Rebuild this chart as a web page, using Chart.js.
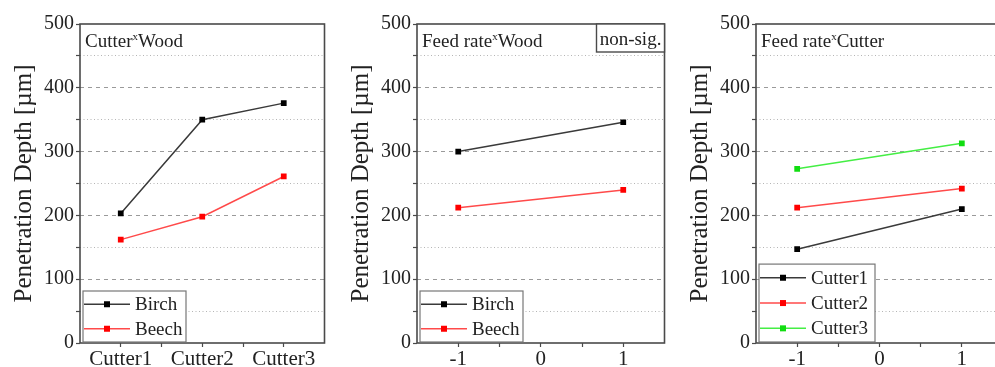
<!DOCTYPE html>
<html>
<head>
<meta charset="utf-8">
<script src="https://cdn.jsdelivr.net/npm/chart.js@4.4.1/dist/chart.umd.min.js"></script>
<style>
  html, body { margin: 0; padding: 0; background: #fff; width: 995px; height: 367px; overflow: hidden; }
  .panel { position: absolute; top: 0; }
</style>
</head>
<body>
<div class="panel" style="left:0px"><canvas id="c1" width="330" height="367"></canvas></div>
<div class="panel" style="left:337px"><canvas id="c2" width="333" height="367"></canvas></div>
<div class="panel" style="left:676px"><canvas id="c3" width="334" height="367"></canvas></div>
<script>
// ---- data ----
const cutterCategories = ['Cutter1', 'Cutter2', 'Cutter3'];
const feedRateLevels = [-1, 1];
const feedRateTickLabels = ['-1', '0', '1'];
const birchByCutter = [203, 350, 376];
const beechByCutter = [162, 198, 261];
const birchByFeed = [300, 346];
const beechByFeed = [212, 240];
const cutter1ByFeed = [147, 210];
const cutter2ByFeed = [212, 242];
const cutter3ByFeed = [273, 313];
const yMin = 0, yMax = 500;

const FONT = "'Liberation Serif', 'DejaVu Serif', serif";
const TXT = '#222';
const FRAME = '#4a4a4a';

const colors = {
  black: { line: '#3a3a3a', point: '#000000' },
  red:   { line: '#ff4a4a', point: '#ff0000' },
  green: { line: '#44ee44', point: '#11dd11' }
};

function ds(label, data, xs, c) {
  return {
    label,
    data: data.map((v, i) => ({ x: xs[i], y: v })),
    borderColor: c.line,
    backgroundColor: c.point,
    pointBackgroundColor: c.point,
    pointBorderColor: c.point,
    pointStyle: 'rect',
    pointRadius: 3,
    borderWidth: 1.5,
    tension: 0
  };
}

const framePlugin = {
  id: 'frameDeco',
  afterDraw(chart, args, opts) {
    const ctx = chart.ctx;
    const a = chart.chartArea;
    ctx.save();
    ctx.strokeStyle = FRAME;
    ctx.lineWidth = 1.6;
    ctx.setLineDash([]);
    ctx.strokeRect(a.left, a.top, a.right - a.left, a.bottom - a.top);

    if (opts.title) {
      const [p1, p2] = opts.title;
      let x = a.left + 5, y = a.top + 23;
      ctx.fillStyle = TXT;
      ctx.textBaseline = 'alphabetic';
      ctx.textAlign = 'left';
      ctx.font = '19px ' + FONT;
      ctx.fillText(p1, x, y);
      x += ctx.measureText(p1).width;
      ctx.font = '11px ' + FONT;
      ctx.fillText('x', x, y - 7);
      x += ctx.measureText('x').width;
      ctx.font = '19px ' + FONT;
      ctx.fillText(p2, x, y);
    }

    if (opts.note) {
      ctx.font = '19px ' + FONT;
      const w = 68, h = 28;
      const bx = a.right - w, by = a.top;
      ctx.fillStyle = '#fff';
      ctx.fillRect(bx, by, w, h);
      ctx.strokeStyle = FRAME;
      ctx.lineWidth = 1.4;
      ctx.strokeRect(bx, by, w, h);
      ctx.fillStyle = TXT;
      ctx.textAlign = 'center';
      ctx.textBaseline = 'alphabetic';
      ctx.fillText(opts.note, bx + w / 2, by + 21);
    }

    if (opts.legend) {
      const L = opts.legend;
      const items = chart.data.datasets;
      const bx = a.left + 3, bh = L.rowH * items.length + 2;
      const by = a.bottom - 1 - bh;
      ctx.fillStyle = '#fff';
      ctx.fillRect(bx, by, L.w, bh);
      ctx.strokeStyle = '#777';
      ctx.lineWidth = 1.2;
      ctx.strokeRect(bx, by, L.w, bh);
      ctx.font = L.font + 'px ' + FONT;
      items.forEach((d, i) => {
        const cy = by + 1 + L.rowH * (i + 0.5);
        ctx.strokeStyle = d.borderColor;
        ctx.lineWidth = 1.5;
        ctx.beginPath();
        ctx.moveTo(bx + 1, cy);
        ctx.lineTo(bx + 47, cy);
        ctx.stroke();
        ctx.fillStyle = d.pointBackgroundColor;
        ctx.fillRect(bx + 24 - 3, cy - 3, 6, 6);
        ctx.fillStyle = TXT;
        ctx.textAlign = 'left';
        ctx.textBaseline = 'middle';
        ctx.fillText(d.label, bx + 52, cy + 1);
      });
    }
    ctx.restore();
  }
};

function yScale() {
  return {
    min: yMin, max: yMax,
    afterFit(s) { s.width = 80; },
    ticks: {
      stepSize: 50,
      padding: 2,
      color: TXT,
      font: { family: FONT, size: 20 },
      callback: v => (v % 100 === 0 ? String(v) : '')
    },
    title: {
      display: true,
      text: 'Penetration Depth [µm]',
      color: TXT,
      font: { family: FONT, size: 25 },
      padding: { top: 9, bottom: 0 }
    },
    grid: {
      drawTicks: true,
      tickLength: 4,
      tickColor: FRAME,
      tickWidth: 1.2,
      lineWidth: 1,
      color: c => {
        const v = c.tick ? c.tick.value : null;
        if (v === yMin || v === yMax) return 'rgba(0,0,0,0)';
        return v % 100 === 0 ? '#9a9a9a' : '#b5b5b5';
      }
    },
    border: {
      display: false,
      dash: c => {
        if (!c.tick) return [];
        return c.tick.value % 100 === 0 ? [4, 4] : [1, 2.5];
      }
    }
  };
}

function xScale(min, max, labelFn) {
  return {
    type: 'linear',
    min, max,
    afterFit(s) { s.height = 24; },
    ticks: {
      stepSize: 0.5,
      padding: 0,
      autoSkip: false,
      maxRotation: 0,
      color: TXT,
      font: { family: FONT, size: 21 },
      callback: labelFn
    },
    grid: {
      drawOnChartArea: false,
      drawTicks: true,
      tickLength: 4,
      tickColor: c => {
        const v = c.tick ? c.tick.value : null;
        return (v === min || v === max) ? 'rgba(0,0,0,0)' : FRAME;
      },
      tickWidth: 1.2
    },
    border: { display: false }
  };
}

function makeChart(id, datasets, xMin, xMax, labelFn, deco, padRight) {
  return new Chart(document.getElementById(id), {
    type: 'line',
    data: { datasets },
    options: {
      responsive: false,
      animation: false,
      devicePixelRatio: 1,
      layout: { padding: { top: 24, right: padRight, left: 0, bottom: 0 } },
      plugins: {
        legend: { display: false },
        tooltip: { enabled: false },
        frameDeco: deco
      },
      scales: {
        x: xScale(xMin, xMax, labelFn),
        y: yScale()
      }
    },
    plugins: [framePlugin]
  });
}

const cutterX = cutterCategories.map((_, i) => i + 1);
const cutterLabel = v => (Number.isInteger(v) && v >= 1 && v <= cutterCategories.length) ? cutterCategories[v - 1] : '';
const feedLabel = v => {
  const idx = [-1, 0, 1].indexOf(v);
  return idx >= 0 ? feedRateTickLabels[idx] : '';
};

makeChart('c1', [
  ds('Birch', birchByCutter, cutterX, colors.black),
  ds('Beech', beechByCutter, cutterX, colors.red)
], 0.5, 3.5, cutterLabel, { title: ['Cutter', 'Wood'], legend: { w: 103, rowH: 24.5, font: 19 } }, 5);

makeChart('c2', [
  ds('Birch', birchByFeed, feedRateLevels, colors.black),
  ds('Beech', beechByFeed, feedRateLevels, colors.red)
], -1.5, 1.5, feedLabel, { title: ['Feed rate', 'Wood'], note: 'non-sig.', legend: { w: 103, rowH: 24.5, font: 19 } }, 5);

makeChart('c3', [
  ds('Cutter1', cutter1ByFeed, feedRateLevels, colors.black),
  ds('Cutter2', cutter2ByFeed, feedRateLevels, colors.red),
  ds('Cutter3', cutter3ByFeed, feedRateLevels, colors.green)
], -1.5, 1.5, feedLabel, { title: ['Feed rate', 'Cutter'], legend: { w: 116, rowH: 25.3, font: 19 } }, 7);
</script>
</body>
</html>
